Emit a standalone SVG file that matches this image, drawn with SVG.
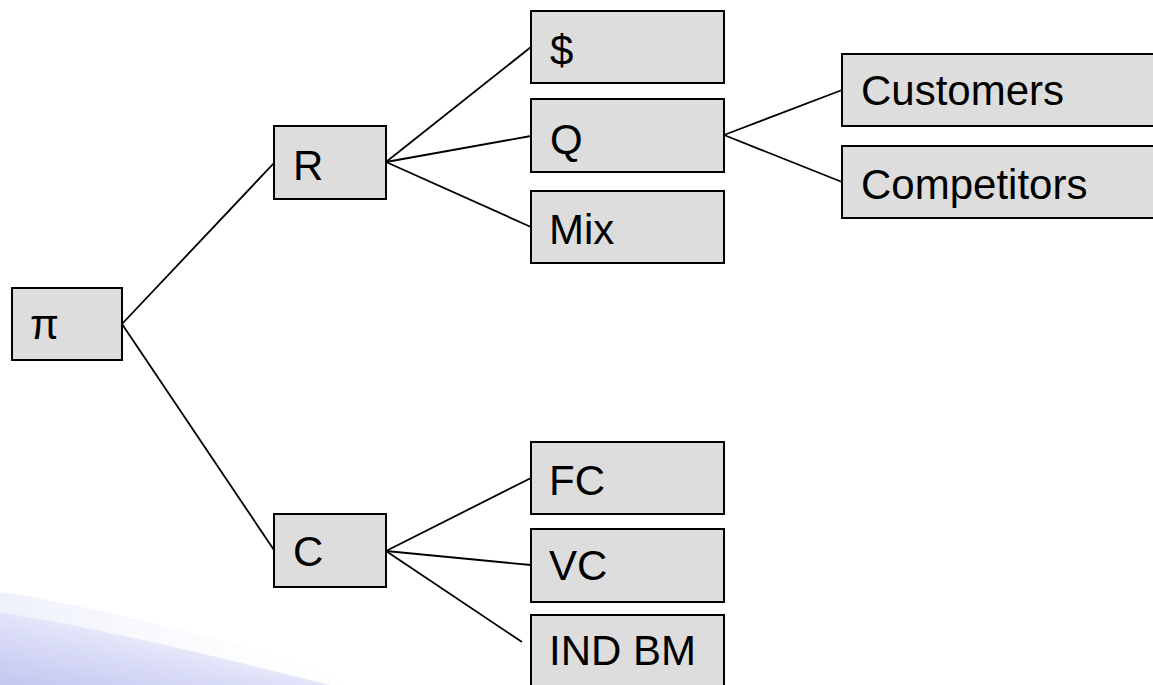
<svg xmlns="http://www.w3.org/2000/svg" width="1153" height="685" viewBox="0 0 1153 685">
  <defs>
    <linearGradient id="swoosh" x1="0" y1="1" x2="1" y2="0">
      <stop offset="0" stop-color="#c4c6f0"/>
      <stop offset="0.45" stop-color="#dfe2f8"/>
      <stop offset="1" stop-color="#ffffff" stop-opacity="0"/>
    </linearGradient>
    <linearGradient id="swoosh2" x1="0" y1="0" x2="1" y2="0">
      <stop offset="0" stop-color="#eef0fb"/>
      <stop offset="1" stop-color="#ffffff" stop-opacity="0"/>
    </linearGradient>
  </defs>
  <style>
    .box { fill: #dddddd; stroke: #000000; stroke-width: 2; }
    .lbl { font-family: "Liberation Sans", Arial, sans-serif; font-size: 42px; fill: #000000; }
    .conn line { stroke: #000000; stroke-width: 1.8; fill: none; }
  </style>
  <rect width="1153" height="685" fill="#ffffff"/>
  <g id="background">
    <path d="M0,592 C120,610 260,650 380,685 L0,685 Z" fill="url(#swoosh2)"/>
    <path d="M0,612 C110,630 230,660 330,685 L0,685 Z" fill="url(#swoosh)"/>
  </g>
  <g id="connectors" class="conn">
    <line x1="122" y1="324" x2="274" y2="163"/>
    <line x1="122" y1="324" x2="274" y2="550"/>
    <line x1="386" y1="162" x2="531" y2="47"/>
    <line x1="386" y1="162" x2="531" y2="136"/>
    <line x1="386" y1="162" x2="531" y2="227"/>
    <line x1="724" y1="135" x2="842" y2="90"/>
    <line x1="724" y1="135" x2="842" y2="182"/>
    <line x1="386" y1="551" x2="531" y2="478"/>
    <line x1="386" y1="551" x2="531" y2="565"/>
    <line x1="386" y1="551" x2="522" y2="642"/>
  </g>
  <g id="node-pi"><rect class="box" x="12" y="288" width="110" height="72"/><text class="lbl" x="30" y="339">π</text></g>
  <g id="node-R"><rect class="box" x="274" y="126" width="112" height="73"/><text class="lbl" x="293" y="180">R</text></g>
  <g id="node-C"><rect class="box" x="274" y="514" width="112" height="73"/><text class="lbl" x="293" y="566">C</text></g>
  <g id="node-dollar"><rect class="box" x="531" y="11" width="193" height="72"/><text class="lbl" x="550" y="65">$</text></g>
  <g id="node-Q"><rect class="box" x="531" y="99" width="193" height="73"/><text class="lbl" x="550" y="154">Q</text></g>
  <g id="node-Mix"><rect class="box" x="531" y="191" width="193" height="72"/><text class="lbl" x="549" y="244">Mix</text></g>
  <g id="node-Customers"><rect class="box" x="842" y="54" width="330" height="72"/><text class="lbl" x="861" y="105">Customers</text></g>
  <g id="node-Competitors"><rect class="box" x="842" y="146" width="330" height="72"/><text class="lbl" x="861" y="199">Competitors</text></g>
  <g id="node-FC"><rect class="box" x="531" y="442" width="193" height="72"/><text class="lbl" x="549" y="495">FC</text></g>
  <g id="node-VC"><rect class="box" x="531" y="529" width="193" height="73"/><text class="lbl" x="549" y="580">VC</text></g>
  <g id="node-INDBM"><rect class="box" x="531" y="615" width="193" height="90"/><text class="lbl" x="549" y="665">IND BM</text></g>
</svg>
